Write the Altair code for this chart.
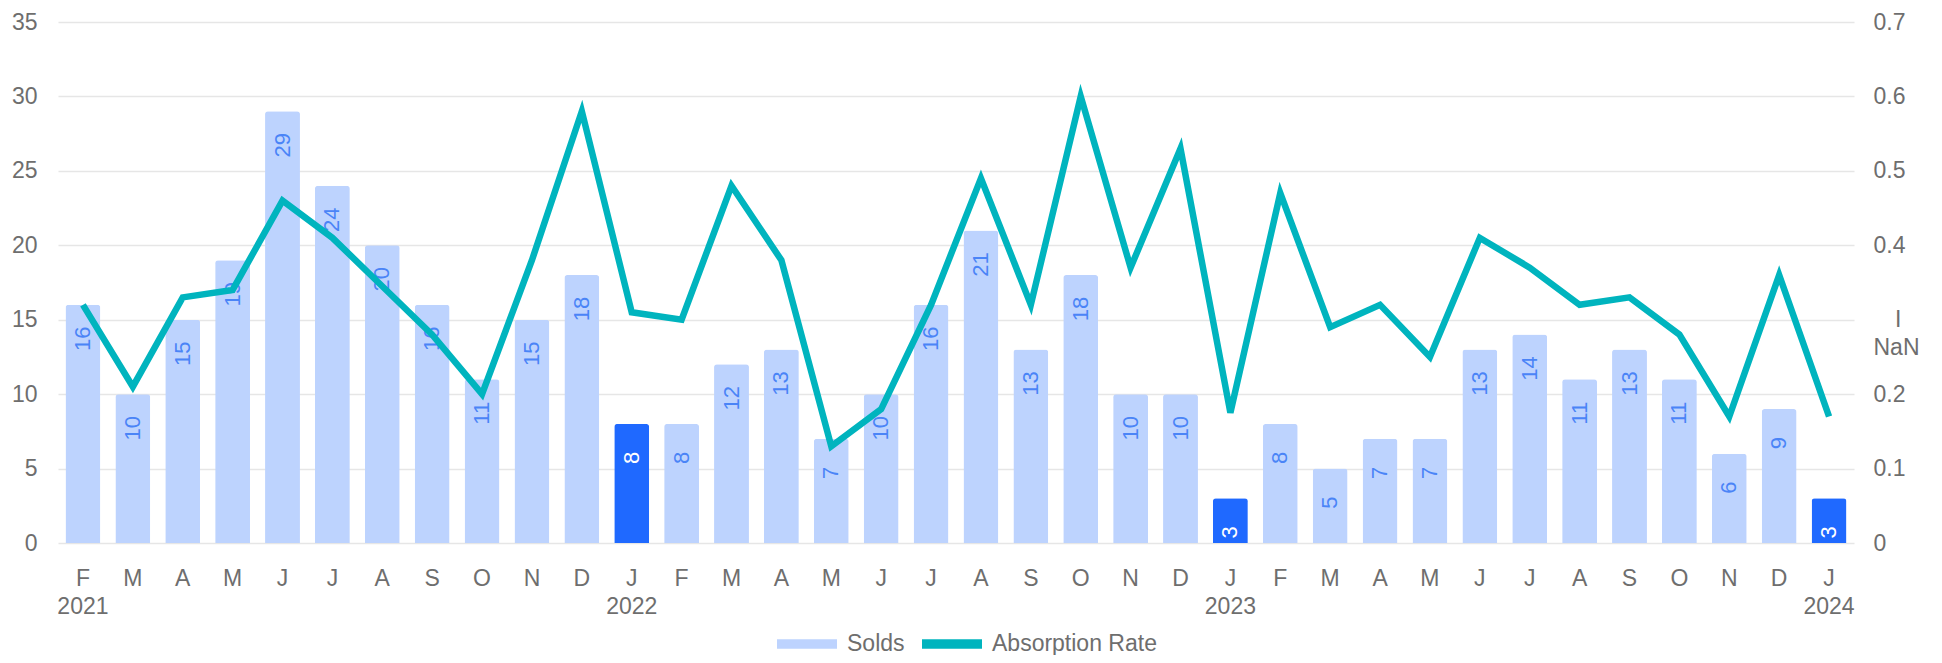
import altair as alt
import pandas as pd

# ---- data ----
periods = [
    "2021-02", "2021-03", "2021-04", "2021-05", "2021-06", "2021-07", "2021-08", "2021-09",
    "2021-10", "2021-11", "2021-12",
    "2022-01", "2022-02", "2022-03", "2022-04", "2022-05", "2022-06", "2022-07", "2022-08",
    "2022-09", "2022-10", "2022-11", "2022-12",
    "2023-01", "2023-02", "2023-03", "2023-04", "2023-05", "2023-06", "2023-07", "2023-08",
    "2023-09", "2023-10", "2023-11", "2023-12",
    "2024-01",
]
solds = [16, 10, 15, 19, 29, 24, 20, 16, 11, 15, 18,
         8, 8, 12, 13, 7, 10, 16, 21, 13, 18, 10, 10,
         3, 8, 5, 7, 7, 13, 14, 11, 13, 11, 6, 9,
         3]
absorption = [0.32, 0.21, 0.33, 0.34, 0.46, 0.41, 0.345, 0.28, 0.20, 0.38, 0.58,
              0.31, 0.30, 0.48, 0.38, 0.13, 0.18, 0.32, 0.49, 0.32, 0.60, 0.37, 0.53,
              0.175, 0.47, 0.29, 0.32, 0.25, 0.41, 0.37, 0.32, 0.33, 0.28, 0.17, 0.36,
              0.17]
series_names = ["Solds", "Absorption Rate"]
left_ticks = [0, 5, 10, 15, 20, 25, 30, 35]
right_ticks = [0, 0.1, 0.2, 0.3, 0.4, 0.5, 0.6, 0.7]
odd_label = ["I", "NaN"]   # the right-axis label shown at 0.3 in the reference

# ---- styles ----
FONT = "Liberation Sans"
LIGHT = "#BDD3FE"
DARK = "#1F69FF"
TEAL = "#00B4BE"
LABEL_BLUE = "#4A84F7"
TEXT = "#6E6E6E"
GRID = "#E6E6E6"

df = pd.DataFrame({
    "period": periods,
    "solds": solds,
    "rate": absorption,
    "series": series_names[0],
})
df["is_jan"] = df["period"].str.endswith("-01")

base = alt.Chart(df)

month_expr = "substring('JFMAMJJASOND', toNumber(substring(datum.value,5,7))-1, toNumber(substring(datum.value,5,7)))"
year_expr = "substring(datum.value,0,4)"
x_label_expr = (
    f"(toNumber(substring(datum.value,5,7))==1 || datum.value=='{periods[0]}') "
    f"? [{month_expr}, {year_expr}] : {month_expr}"
)

x_axis = alt.Axis(
    title=None, labelExpr=x_label_expr, labelAngle=0, labelAlign="center",
    labelBaseline="top", labelFontSize=23, labelFont=FONT, labelColor=TEXT,
    labelLineHeight=28, labelPadding=24, domain=False, ticks=False, tickSize=0, grid=False,
)
x_enc = alt.X("period:O", sort=periods,
              scale=alt.Scale(paddingInner=0.3, paddingOuter=0.15), axis=x_axis)

left_axis = alt.Axis(
    title=None, values=left_ticks, labelFontSize=23, labelFont=FONT, labelColor=TEXT,
    labelPadding=21, domain=False, ticks=False, tickSize=0, grid=True,
    gridColor=GRID, gridWidth=1.6,
)
# a blank (non-whitespace) glyph plus a thin space pushes the "I" over the middle of "NaN"
right_label_expr = (
    f"abs(datum.value-0.3)<1e-9 ? ['\u2800\u2009{odd_label[0]}','{odd_label[1]}'] : "
    "format(datum.value,'~g')"
)
right_axis = alt.Axis(
    title=None, orient="right", values=right_ticks,
    labelExpr=right_label_expr,
    labelFontSize=23, labelFont=FONT, labelColor=TEXT, labelLineHeight=28,
    labelPadding=19, domain=False, ticks=False, tickSize=0, grid=False,
)

legend = alt.Legend(
    title=None, orient="none", legendX=719, legendY=592, direction="horizontal",
    symbolType="M-1,-0.16H1V0.16H-1Z", symbolSize=3600, symbolStrokeWidth=0,
    symbolOpacity=1, labelFontSize=23, labelFont=FONT, labelColor=TEXT,
    labelOffset=10, columnPadding=17, padding=0, labelLimit=400,
)

bars = base.mark_bar(cornerRadiusTopLeft=3, cornerRadiusTopRight=3).encode(
    x=x_enc,
    y=alt.Y("solds:Q", scale=alt.Scale(domain=[0, 35]), axis=left_axis),
    color=alt.condition(
        alt.datum.is_jan == True,
        alt.value(DARK),
        alt.Color("series:N",
                  scale=alt.Scale(domain=series_names, range=[LIGHT, TEAL]),
                  legend=legend),
    ),
)

bar_labels = base.mark_text(
    angle=270, dx=-34, align="center", baseline="middle", fontSize=22, font=FONT
).encode(
    x=alt.X("period:O", sort=periods, axis=x_axis),
    y=alt.Y("solds:Q", scale=alt.Scale(domain=[0, 35]), axis=left_axis),
    text=alt.Text("solds:Q"),
    color=alt.condition(alt.datum.is_jan == True, alt.value("white"), alt.value(LABEL_BLUE)),
)

line = base.mark_line(color=TEAL, strokeWidth=6.5, strokeJoin="miter").encode(
    x=alt.X("period:O", sort=periods, axis=x_axis),
    y=alt.Y("rate:Q", scale=alt.Scale(domain=[0, 0.7]), axis=right_axis),
)

chart = (
    alt.layer(alt.layer(bars, bar_labels), line)
    .resolve_scale(y="independent")
    .properties(
        width=1796, height=521,
        autosize=alt.AutoSizeParams(type="none"),
        padding={"left": 50, "top": 14, "right": 80, "bottom": 112},
        background="white",
    )
    .configure_view(stroke=None)
)

chart.save("out.html", embed_options={"renderer": "svg", "actions": False})
